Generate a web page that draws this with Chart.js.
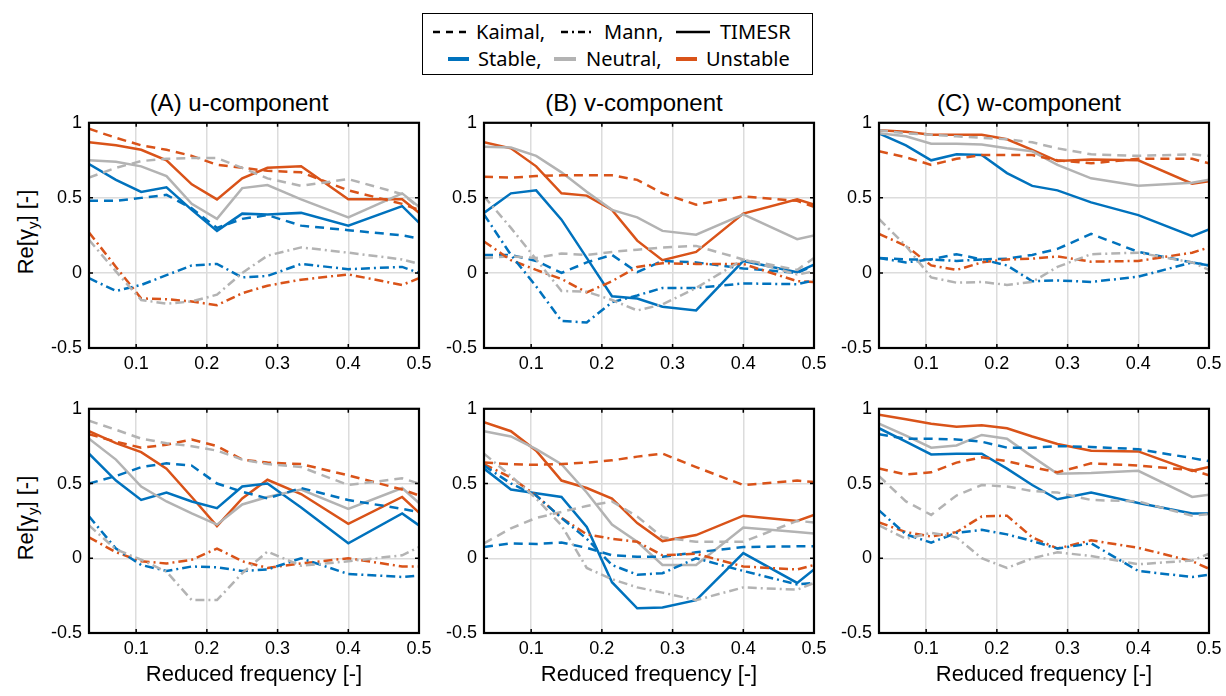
<!DOCTYPE html>
<html>
<head>
<meta charset="utf-8">
<script src="https://cdn.jsdelivr.net/npm/chart.js@4.4.0/dist/chart.umd.min.js"></script>
<style>
  body { margin: 0; width: 1226px; height: 696px; background: #fff; position: relative; overflow: hidden;
         font-family: "Liberation Sans", Arial, sans-serif; color: #000; }
  canvas { position: absolute; }
  .ttl { position: absolute; font-size: 24px; line-height: 28px; transform: translateX(-50%); white-space: nowrap; }
  .ylab { position: absolute; font-size: 22px; white-space: nowrap; transform: translate(-50%, -50%) rotate(-90deg); }
  .ylab sub { font-size: 15px; }
  #legend { position: absolute; left: 422px; top: 13px; width: 389px; height: 60px; border: 1.5px solid #000;
            font-family: "Noto Sans", sans-serif; font-size: 20px; }
  #legend div { position: absolute; line-height: 24px; white-space: nowrap; }
  #legend svg { position: absolute; }
</style>
</head>
<body>

<div id="legend">
  <svg style="left:10px;top:15px" width="34" height="6"><line x1="0" y1="3" x2="34" y2="3" stroke="#000" stroke-width="2.5" stroke-dasharray="7,6"/></svg>
  <div style="left:53px;top:6px">Kaimal,</div>
  <svg style="left:138px;top:15px" width="32" height="6"><line x1="0" y1="3" x2="32" y2="3" stroke="#000" stroke-width="2.5" stroke-dasharray="7,4,2,4"/></svg>
  <div style="left:181px;top:6px">Mann,</div>
  <svg style="left:253px;top:15px" width="34" height="6"><line x1="0" y1="3" x2="34" y2="3" stroke="#000" stroke-width="2.5"/></svg>
  <div style="left:297px;top:6px">TIMESR</div>
  <svg style="left:25px;top:42px" width="21" height="6"><line x1="0" y1="3" x2="21" y2="3" stroke="#0072BD" stroke-width="4"/></svg>
  <div style="left:55px;top:33px">Stable,</div>
  <svg style="left:131px;top:42px" width="22" height="6"><line x1="0" y1="3" x2="22" y2="3" stroke="#B3B3B3" stroke-width="4"/></svg>
  <div style="left:163px;top:33px">Neutral,</div>
  <svg style="left:253px;top:42px" width="21" height="6"><line x1="0" y1="3" x2="21" y2="3" stroke="#D95319" stroke-width="4"/></svg>
  <div style="left:283px;top:33px">Unstable</div>
</div>

<div class="ttl" style="left:239px;top:89px">(A) u-component</div>
<div class="ttl" style="left:634px;top:89px">(B) v-component</div>
<div class="ttl" style="left:1029px;top:89px">(C) w-component</div>

<div class="ylab" style="left:27px;top:232px">Re[γ<sub>y</sub>] [-]</div>
<div class="ylab" style="left:27px;top:518px">Re[γ<sub>y</sub>] [-]</div>

<script>
// reduced frequency of every point
const FREQ = [0.0333, 0.0714, 0.1071, 0.1429, 0.1786, 0.2143, 0.25, 0.2857, 0.3333, 0.4, 0.4762, 0.5];
const X_TICKS = [0.1, 0.2, 0.3, 0.4, 0.5];
const Y_TICKS = [-0.5, 0, 0.5, 1];

// (A) u-component, upper row
const uTop_kaimal_stable   = [0.48, 0.48, 0.50, 0.52, 0.43, 0.30, 0.36, 0.385, 0.315, 0.285, 0.25, 0.23];
const uTop_kaimal_neutral  = [0.635, 0.70, 0.745, 0.76, 0.765, 0.765, 0.70, 0.63, 0.58, 0.625, 0.525, 0.435];
const uTop_kaimal_unstable = [0.96, 0.90, 0.85, 0.82, 0.78, 0.72, 0.70, 0.68, 0.67, 0.55, 0.46, 0.42];
const uTop_mann_stable     = [-0.035, -0.12, -0.08, -0.015, 0.05, 0.06, -0.03, -0.02, 0.06, 0.025, 0.04, 0.0];
const uTop_mann_neutral    = [0.22, 0.01, -0.18, -0.205, -0.19, -0.145, 0.0, 0.115, 0.17, 0.135, 0.09, 0.06];
const uTop_mann_unstable   = [0.27, 0.04, -0.17, -0.175, -0.19, -0.215, -0.135, -0.085, -0.045, -0.01, -0.08, -0.035];
const uTop_timesr_stable   = [0.725, 0.62, 0.54, 0.57, 0.42, 0.28, 0.395, 0.39, 0.40, 0.315, 0.445, 0.335];
const uTop_timesr_neutral  = [0.75, 0.74, 0.71, 0.645, 0.46, 0.36, 0.565, 0.585, 0.49, 0.37, 0.53, 0.44];
const uTop_timesr_unstable = [0.87, 0.85, 0.82, 0.75, 0.59, 0.49, 0.63, 0.70, 0.71, 0.49, 0.49, 0.40];

// (B) v-component, upper row
const vTop_kaimal_stable   = [0.12, 0.12, 0.08, 0.0, 0.07, 0.12, 0.005, 0.08, 0.07, 0.03, 0.0, 0.05];
const vTop_kaimal_neutral  = [0.10, 0.11, 0.10, 0.13, 0.12, 0.14, 0.155, 0.17, 0.18, 0.09, 0.02, 0.10];
const vTop_kaimal_unstable = [0.64, 0.635, 0.645, 0.65, 0.65, 0.65, 0.62, 0.53, 0.455, 0.51, 0.48, 0.44];
const vTop_mann_stable     = [0.39, 0.12, -0.09, -0.32, -0.33, -0.195, -0.15, -0.1, -0.1, -0.07, -0.075, -0.05];
const vTop_mann_neutral    = [0.51, 0.30, 0.09, -0.12, -0.125, -0.18, -0.25, -0.21, -0.10, 0.09, -0.01, 0.01];
const vTop_mann_unstable   = [0.21, 0.085, 0.02, -0.04, -0.13, -0.055, 0.04, 0.065, 0.06, 0.06, -0.055, -0.06];
const vTop_timesr_stable   = [0.40, 0.53, 0.55, 0.355, 0.10, -0.155, -0.17, -0.225, -0.25, 0.08, 0.005, 0.055];
const vTop_timesr_neutral  = [0.84, 0.835, 0.78, 0.67, 0.54, 0.42, 0.37, 0.28, 0.255, 0.39, 0.225, 0.25];
const vTop_timesr_unstable = [0.87, 0.83, 0.71, 0.53, 0.515, 0.42, 0.215, 0.085, 0.14, 0.395, 0.49, 0.455];

// (C) w-component, upper row
const wTop_kaimal_stable   = [0.10, 0.09, 0.09, 0.125, 0.09, 0.095, 0.12, 0.16, 0.26, 0.14, 0.07, 0.05];
const wTop_kaimal_neutral  = [0.95, 0.93, 0.92, 0.91, 0.90, 0.89, 0.87, 0.83, 0.79, 0.78, 0.79, 0.78];
const wTop_kaimal_unstable = [0.81, 0.77, 0.72, 0.76, 0.785, 0.785, 0.785, 0.75, 0.73, 0.76, 0.76, 0.73];
const wTop_mann_stable     = [0.10, 0.07, 0.09, 0.08, 0.09, 0.05, -0.055, -0.05, -0.06, -0.025, 0.07, 0.05];
const wTop_mann_neutral    = [0.36, 0.18, -0.03, -0.065, -0.06, -0.08, -0.06, 0.04, 0.125, 0.135, 0.07, 0.02];
const wTop_mann_unstable   = [0.26, 0.18, 0.05, 0.02, 0.07, 0.09, 0.095, 0.11, 0.075, 0.08, 0.135, 0.17];
const wTop_timesr_stable   = [0.93, 0.85, 0.75, 0.79, 0.785, 0.665, 0.58, 0.55, 0.47, 0.385, 0.245, 0.29];
const wTop_timesr_neutral  = [0.93, 0.91, 0.86, 0.86, 0.855, 0.83, 0.81, 0.72, 0.63, 0.58, 0.60, 0.62];
const wTop_timesr_unstable = [0.95, 0.94, 0.92, 0.92, 0.92, 0.89, 0.82, 0.745, 0.755, 0.75, 0.595, 0.61];

// (A) u-component, lower row
const uBot_kaimal_stable   = [0.50, 0.55, 0.61, 0.635, 0.62, 0.50, 0.445, 0.40, 0.47, 0.39, 0.33, 0.31];
const uBot_kaimal_neutral  = [0.92, 0.86, 0.80, 0.77, 0.75, 0.72, 0.66, 0.63, 0.61, 0.49, 0.535, 0.50];
const uBot_kaimal_unstable = [0.83, 0.78, 0.74, 0.76, 0.795, 0.75, 0.66, 0.64, 0.63, 0.555, 0.46, 0.42];
const uBot_mann_stable     = [0.28, 0.065, -0.045, -0.085, -0.055, -0.06, -0.085, -0.075, 0.0, -0.105, -0.125, -0.115];
const uBot_mann_neutral    = [0.22, 0.06, -0.01, -0.09, -0.28, -0.28, -0.10, 0.045, -0.05, -0.02, 0.02, 0.075];
const uBot_mann_unstable   = [0.14, 0.04, -0.02, -0.035, -0.01, 0.065, -0.02, -0.065, -0.035, 0.0, -0.055, -0.055];
const uBot_timesr_stable   = [0.70, 0.52, 0.39, 0.44, 0.38, 0.335, 0.48, 0.50, 0.34, 0.10, 0.30, 0.22];
const uBot_timesr_neutral  = [0.80, 0.66, 0.48, 0.38, 0.30, 0.225, 0.36, 0.41, 0.46, 0.33, 0.47, 0.37];
const uBot_timesr_unstable = [0.85, 0.77, 0.71, 0.60, 0.41, 0.215, 0.40, 0.525, 0.43, 0.23, 0.41, 0.305];

// (B) v-component, lower row
const vBot_kaimal_stable   = [0.075, 0.10, 0.095, 0.105, 0.07, 0.02, 0.01, 0.01, 0.04, 0.075, 0.08, 0.08];
const vBot_kaimal_neutral  = [0.10, 0.20, 0.27, 0.31, 0.35, 0.38, 0.28, 0.14, 0.11, 0.11, 0.25, 0.24];
const vBot_kaimal_unstable = [0.64, 0.63, 0.625, 0.63, 0.64, 0.655, 0.68, 0.70, 0.61, 0.49, 0.52, 0.51];
const vBot_mann_stable     = [0.62, 0.50, 0.42, 0.27, 0.13, -0.045, -0.11, -0.10, 0.0, -0.085, -0.175, -0.165];
const vBot_mann_neutral    = [0.70, 0.55, 0.40, 0.22, -0.065, -0.14, -0.195, -0.23, -0.28, -0.195, -0.21, -0.165];
const vBot_mann_unstable   = [0.63, 0.54, 0.42, 0.27, 0.16, 0.13, 0.11, 0.02, 0.03, -0.055, -0.075, -0.045];
const vBot_timesr_stable   = [0.60, 0.46, 0.435, 0.41, 0.21, -0.16, -0.335, -0.33, -0.28, 0.035, -0.165, -0.075];
const vBot_timesr_neutral  = [0.85, 0.815, 0.73, 0.63, 0.44, 0.225, 0.11, -0.045, -0.045, 0.205, 0.175, 0.165];
const vBot_timesr_unstable = [0.91, 0.85, 0.72, 0.52, 0.47, 0.40, 0.235, 0.115, 0.155, 0.285, 0.25, 0.29];

// (C) w-component, lower row
const wBot_kaimal_stable   = [0.83, 0.80, 0.80, 0.795, 0.78, 0.74, 0.74, 0.75, 0.745, 0.73, 0.67, 0.65];
const wBot_kaimal_neutral  = [0.55, 0.38, 0.29, 0.42, 0.49, 0.48, 0.45, 0.44, 0.39, 0.38, 0.285, 0.295];
const wBot_kaimal_unstable = [0.60, 0.56, 0.575, 0.64, 0.675, 0.65, 0.61, 0.575, 0.635, 0.62, 0.59, 0.555];
const wBot_mann_stable     = [0.32, 0.16, 0.105, 0.17, 0.19, 0.16, 0.115, 0.065, 0.10, -0.085, -0.125, -0.11];
const wBot_mann_neutral    = [0.22, 0.13, 0.17, 0.14, 0.0, -0.065, 0.0, 0.04, 0.015, -0.04, -0.015, 0.03];
const wBot_mann_unstable   = [0.24, 0.175, 0.145, 0.175, 0.28, 0.285, 0.14, 0.065, 0.12, 0.07, -0.02, -0.07];
const wBot_timesr_stable   = [0.87, 0.78, 0.695, 0.70, 0.70, 0.60, 0.49, 0.395, 0.44, 0.37, 0.30, 0.30];
const wBot_timesr_neutral  = [0.90, 0.82, 0.74, 0.755, 0.825, 0.80, 0.68, 0.565, 0.57, 0.585, 0.41, 0.425];
const wBot_timesr_unstable = [0.96, 0.93, 0.90, 0.88, 0.89, 0.87, 0.815, 0.765, 0.72, 0.715, 0.585, 0.61];

const COLORS = { stable: '#0072BD', neutral: '#B3B3B3', unstable: '#D95319' };
const DASHES = { kaimal: [9, 6], mann: [9, 4, 2, 4], timesr: [] };
const FONT = '"Liberation Sans", Arial, sans-serif';

// black box and inward ticks, MATLAB style
const framePlugin = {
    id: 'frame',
    afterDraw: function (chart) {
        var ctx = chart.ctx, a = chart.chartArea;
        var x = chart.scales.x, y = chart.scales.y;
        ctx.save();
        ctx.strokeStyle = '#000';
        ctx.lineWidth = 1.5;
        ctx.beginPath();
        [0.1, 0.2, 0.3, 0.4].forEach(function (v) {
            var px = x.getPixelForValue(v);
            ctx.moveTo(px, a.bottom); ctx.lineTo(px, a.bottom - 4);
            ctx.moveTo(px, a.top); ctx.lineTo(px, a.top + 4);
        });
        [0, 0.5].forEach(function (v) {
            var py = y.getPixelForValue(v);
            ctx.moveTo(a.left, py); ctx.lineTo(a.left + 4, py);
            ctx.moveTo(a.right, py); ctx.lineTo(a.right - 4, py);
        });
        ctx.stroke();
        ctx.lineWidth = 2.2;
        ctx.strokeRect(a.left, a.top, a.right - a.left, a.bottom - a.top);
        ctx.restore();
    }
};

function makeDataset(values, model, stab) {
    return {
        label: model + ' ' + stab,
        data: FREQ.map(function (f, i) { return { x: f, y: values[i] }; }),
        borderColor: COLORS[stab],
        borderWidth: 2.5,
        borderDash: DASHES[model],
        pointRadius: 0,
        tension: 0,
        fill: false
    };
}

function createPanel(left, top, plotH, bottomRow, series) {
    var xH = bottomRow ? 55 : 30;
    var cv = document.createElement('canvas');
    cv.width = 410;
    cv.height = 12 + plotH + xH;
    cv.style.left = left + 'px';
    cv.style.top = top + 'px';
    document.body.appendChild(cv);

    var grid = { color: '#dcdcdc', lineWidth: 1.5, drawTicks: false };
    new Chart(cv.getContext('2d'), {
        type: 'line',
        data: {
            datasets: series.map(function (s) { return makeDataset(s[0], s[1], s[2]); })
        },
        options: {
            responsive: false,
            animation: false,
            layout: { padding: { left: 0, top: 12, right: 20, bottom: 0 } },
            plugins: { legend: { display: false }, tooltip: { enabled: false } },
            scales: {
                x: {
                    type: 'linear', min: FREQ[0], max: 0.5,
                    afterBuildTicks: function (s) { s.ticks = X_TICKS.map(function (v) { return { value: v }; }); },
                    afterFit: function (s) { s.height = xH; },
                    ticks: { callback: function (v) { return v.toFixed(1); }, font: { family: FONT, size: 18 },
                             color: '#000', padding: 5, maxRotation: 0, autoSkip: false },
                    grid: grid,
                    border: { display: false },
                    title: { display: bottomRow, text: 'Reduced frequency [-]', color: '#000',
                             font: { family: FONT, size: 22 }, padding: { top: 0, bottom: 0 } }
                },
                y: {
                    min: -0.5, max: 1,
                    afterBuildTicks: function (s) { s.ticks = Y_TICKS.map(function (v) { return { value: v }; }); },
                    afterFit: function (s) { s.width = 60; },
                    ticks: { callback: function (v) { return String(v); }, font: { family: FONT, size: 18 },
                             color: '#000', padding: 7 },
                    grid: grid,
                    border: { display: false }
                }
            }
        },
        plugins: [framePlugin]
    });
}

function seriesList(ks, kn, ku, ms, mn, mu, ts, tn, tu) {
    return [
        [mn, 'mann', 'neutral'], [ms, 'mann', 'stable'], [mu, 'mann', 'unstable'],
        [kn, 'kaimal', 'neutral'], [ks, 'kaimal', 'stable'], [ku, 'kaimal', 'unstable'],
        [tn, 'timesr', 'neutral'], [ts, 'timesr', 'stable'], [tu, 'timesr', 'unstable']
    ];
}

createPanel(29, 105, 231, false, seriesList(uTop_kaimal_stable, uTop_kaimal_neutral, uTop_kaimal_unstable,
    uTop_mann_stable, uTop_mann_neutral, uTop_mann_unstable, uTop_timesr_stable, uTop_timesr_neutral, uTop_timesr_unstable));
createPanel(424, 105, 231, false, seriesList(vTop_kaimal_stable, vTop_kaimal_neutral, vTop_kaimal_unstable,
    vTop_mann_stable, vTop_mann_neutral, vTop_mann_unstable, vTop_timesr_stable, vTop_timesr_neutral, vTop_timesr_unstable));
createPanel(819, 105, 231, false, seriesList(wTop_kaimal_stable, wTop_kaimal_neutral, wTop_kaimal_unstable,
    wTop_mann_stable, wTop_mann_neutral, wTop_mann_unstable, wTop_timesr_stable, wTop_timesr_neutral, wTop_timesr_unstable));
createPanel(29, 391, 230, true, seriesList(uBot_kaimal_stable, uBot_kaimal_neutral, uBot_kaimal_unstable,
    uBot_mann_stable, uBot_mann_neutral, uBot_mann_unstable, uBot_timesr_stable, uBot_timesr_neutral, uBot_timesr_unstable));
createPanel(424, 391, 230, true, seriesList(vBot_kaimal_stable, vBot_kaimal_neutral, vBot_kaimal_unstable,
    vBot_mann_stable, vBot_mann_neutral, vBot_mann_unstable, vBot_timesr_stable, vBot_timesr_neutral, vBot_timesr_unstable));
createPanel(819, 391, 230, true, seriesList(wBot_kaimal_stable, wBot_kaimal_neutral, wBot_kaimal_unstable,
    wBot_mann_stable, wBot_mann_neutral, wBot_mann_unstable, wBot_timesr_stable, wBot_timesr_neutral, wBot_timesr_unstable));
</script>
</body>
</html>
